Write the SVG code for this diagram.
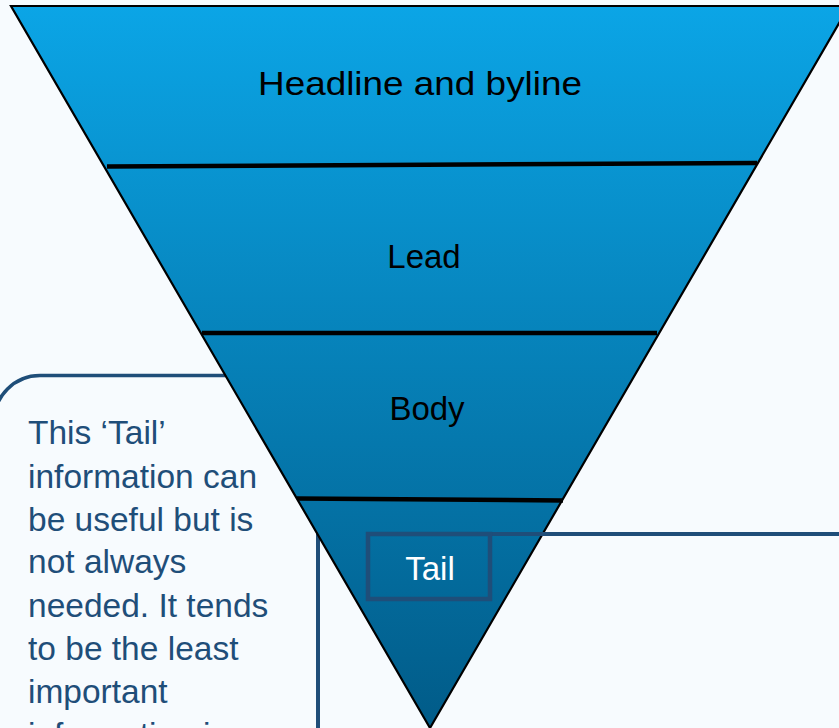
<svg xmlns="http://www.w3.org/2000/svg" width="839" height="728" viewBox="0 0 839 728">
  <defs>
    <linearGradient id="funnelGrad" x1="0" y1="6" x2="0" y2="728" gradientUnits="userSpaceOnUse">
      <stop offset="0" stop-color="#0ba5e6"/>
      <stop offset="1" stop-color="#015b88"/>
    </linearGradient>
    <style>
      .label { font-family: "Liberation Sans", Arial, sans-serif; font-size: 33px; fill: #000; text-anchor: middle; }
      .note { font-family: "Liberation Sans", Arial, sans-serif; font-size: 33.5px; fill: #1f4e79; }
      .frame { fill: none; stroke: #1f4e79; }
      .panel { fill: #f7fbfe; stroke: #1f4e79; }
      .divider { stroke: #000; stroke-width: 4.5; }
    </style>
  </defs>
  <rect x="0" y="0" width="839" height="728" fill="#f7fbfe"/>

  <g id="note-box">
    <rect x="-6" y="375.5" width="400" height="420" rx="46" ry="46" class="panel" stroke-width="3.5"/>
    <text class="note" x="28" y="444">This ‘Tail’</text>
    <text class="note" x="28" y="487.5">information can</text>
    <text class="note" x="28" y="530.5">be useful but is</text>
    <text class="note" x="28" y="573">not always</text>
    <text class="note" x="28" y="616.5">needed. It tends</text>
    <text class="note" x="28" y="660">to be the least</text>
    <text class="note" x="28" y="703">important</text>
    <text class="note" x="28" y="746">information is</text>
  </g>

  <g id="detail-box">
    <rect x="318" y="534" width="560" height="240" class="panel" stroke-width="4"/>
  </g>

  <g id="funnel">
    <polygon points="11,6 849,6 430,728" fill="url(#funnelGrad)" stroke="#000" stroke-width="2.2" stroke-linejoin="miter"/>
  </g>

  <g id="connectors">
    <line class="divider" x1="107" y1="166.5" x2="757" y2="163"/>
    <line class="divider" x1="202" y1="333" x2="657" y2="333"/>
    <line class="divider" x1="297" y1="498.5" x2="563" y2="500.5"/>
    <line x1="490" y1="534" x2="845" y2="534" stroke="#1f4e79" stroke-width="4"/>
  </g>

  <g id="headline">
    <text class="label" x="420" y="95" font-size="36" textLength="324" lengthAdjust="spacingAndGlyphs">Headline and byline</text>
  </g>
  <g id="lead">
    <text class="label" x="424" y="268">Lead</text>
  </g>
  <g id="body">
    <text class="label" x="427" y="420">Body</text>
  </g>
  <g id="tail">
    <rect x="368" y="534" width="122" height="65" class="frame" stroke-width="4.5"/>
    <text class="label" x="430" y="580" style="fill:#ffffff">Tail</text>
  </g>
</svg>
